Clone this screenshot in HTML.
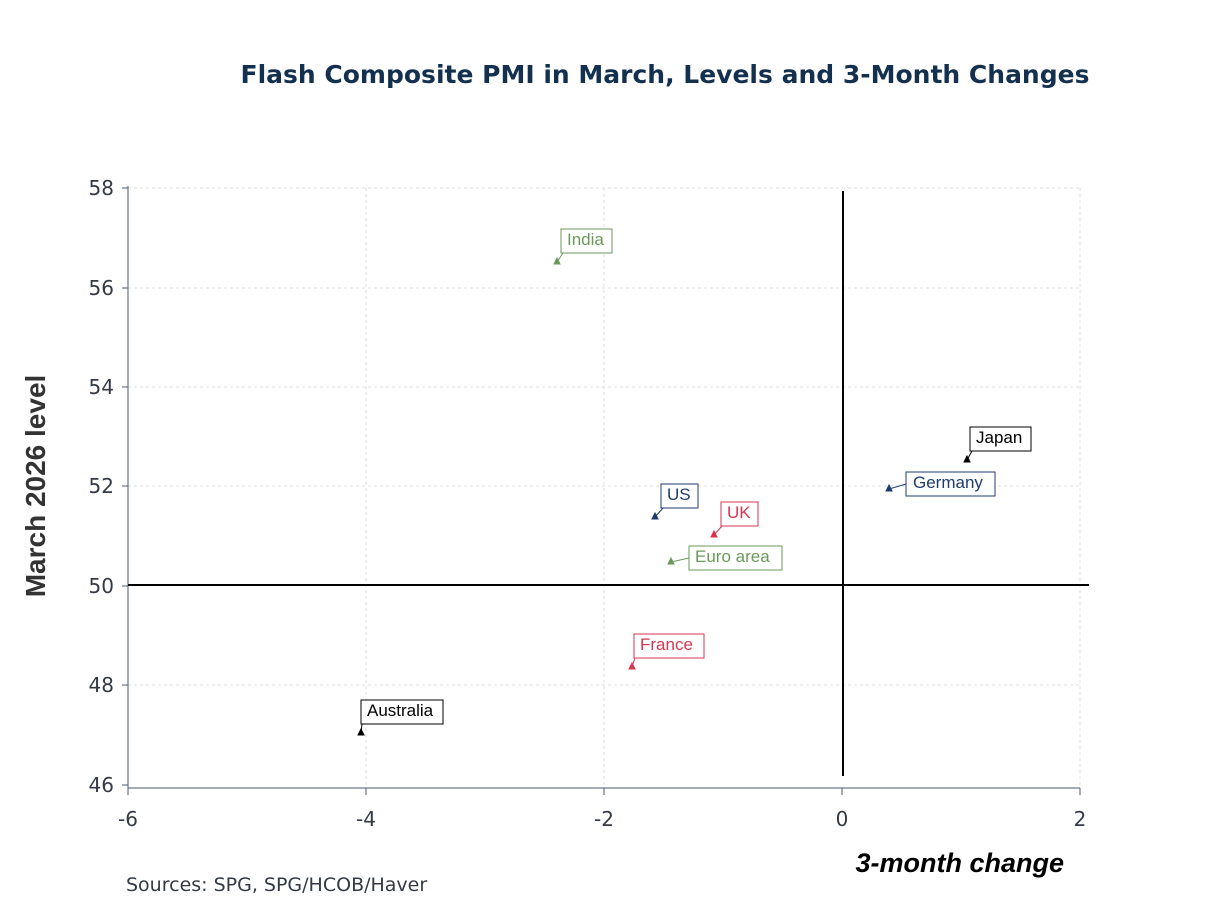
<!DOCTYPE html>
<html><head><meta charset="utf-8"><style>body{margin:0;background:#fff}</style></head><body>
<svg width="1208" height="906" xmlns="http://www.w3.org/2000/svg" font-family="Liberation Sans, sans-serif">
<text x="665" y="83" text-anchor="middle" font-family="DejaVu Sans, sans-serif" font-weight="bold" font-size="25" fill="#13304f">Flash Composite PMI in March, Levels and 3-Month Changes</text>
<g stroke="#dedede" stroke-dasharray="3,3" stroke-width="1">
<line x1="366" y1="188" x2="366" y2="785"/><line x1="604" y1="188" x2="604" y2="785"/><line x1="1080" y1="188" x2="1080" y2="785"/>
<line x1="128" y1="188" x2="1080" y2="188"/><line x1="128" y1="288" x2="1080" y2="288"/><line x1="128" y1="387" x2="1080" y2="387"/><line x1="128" y1="486" x2="1080" y2="486"/><line x1="128" y1="685" x2="1080" y2="685"/>
</g>
<g stroke="#4a5a70" stroke-width="1">
<line x1="128" y1="186" x2="128" y2="788"/><line x1="128" y1="788" x2="1080" y2="788"/>
<line x1="122" y1="188" x2="128" y2="188"/><line x1="122" y1="288" x2="128" y2="288"/><line x1="122" y1="387" x2="128" y2="387"/><line x1="122" y1="486" x2="128" y2="486"/><line x1="122" y1="586" x2="128" y2="586"/><line x1="122" y1="685" x2="128" y2="685"/><line x1="122" y1="785" x2="128" y2="785"/>
<line x1="128" y1="788" x2="128" y2="795"/><line x1="366" y1="788" x2="366" y2="795"/><line x1="604" y1="788" x2="604" y2="795"/><line x1="842" y1="788" x2="842" y2="795"/><line x1="1080" y1="788" x2="1080" y2="795"/>
</g>
<line x1="843" y1="191" x2="843" y2="776" stroke="#000" stroke-width="2"/>
<line x1="128" y1="585" x2="1089" y2="585" stroke="#000" stroke-width="2"/>
<g font-family="DejaVu Sans, sans-serif" font-size="20" fill="#333a45" text-anchor="end">
<text x="114" y="195">58</text><text x="114" y="295">56</text><text x="114" y="394">54</text><text x="114" y="493">52</text><text x="114" y="593">50</text><text x="114" y="692">48</text><text x="114" y="792">46</text>
</g>
<g font-family="DejaVu Sans, sans-serif" font-size="20" fill="#333a45" text-anchor="middle">
<text x="128" y="826">-6</text><text x="366" y="826">-4</text><text x="604" y="826">-2</text><text x="842" y="826">0</text><text x="1080" y="826">2</text>
</g>
<text x="45" y="486" transform="rotate(-90 45 486)" text-anchor="middle" font-weight="bold" font-size="28" fill="#333">March 2026 level</text>
<text x="1064" y="872" text-anchor="end" font-weight="bold" font-style="italic" font-size="27" fill="#000">3-month change</text>
<text x="126" y="891" font-family="DejaVu Sans, sans-serif" font-size="19" fill="#333a45">Sources:  SPG, SPG/HCOB/Haver</text>
<g font-size="17">
<g stroke="#6a9a5a" fill="#6a9a5a"><line x1="557" y1="262" x2="563" y2="253"/><polygon points="554,264 560,264 557,258" /><rect x="561" y="229" width="51" height="24" fill="#fff"/><text x="567" y="245" stroke="none">India</text></g>
<g stroke="#000" fill="#000"><line x1="967" y1="460" x2="972" y2="451"/><polygon points="964,462 970,462 967,456"/><rect x="970" y="427" width="61" height="24" fill="#fff"/><text x="976" y="443" stroke="none">Japan</text></g>
<g stroke="#1f3c6e" fill="#1f3c6e"><line x1="889" y1="489" x2="906" y2="484"/><polygon points="886,491 892,491 889,485"/><rect x="906" y="472" width="89" height="24" fill="#fff"/><text x="913" y="488" stroke="none">Germany</text></g>
<g stroke="#1f3c6e" fill="#1f3c6e"><line x1="655" y1="517" x2="663" y2="508"/><polygon points="652,519 658,519 655,513"/><rect x="661" y="484" width="37" height="24" fill="#fff"/><text x="667" y="500" stroke="none">US</text></g>
<g stroke="#d6374f" fill="#d6374f"><line x1="714" y1="535" x2="722" y2="526"/><polygon points="711,537 717,537 714,531"/><rect x="721" y="502" width="37" height="24" fill="#fff"/><text x="727" y="518" stroke="none">UK</text></g>
<g stroke="#6a9a5a" fill="#6a9a5a"><line x1="671" y1="562" x2="689" y2="558"/><polygon points="668,564 674,564 671,558"/><rect x="689" y="546" width="93" height="24" fill="#fff"/><text x="695" y="562" stroke="none">Euro area</text></g>
<g stroke="#d6374f" fill="#d6374f"><line x1="632" y1="667" x2="635" y2="658"/><polygon points="629,669 635,669 632,663"/><rect x="634" y="634" width="70" height="24" fill="#fff"/><text x="640" y="650" stroke="none">France</text></g>
<g stroke="#000" fill="#000"><line x1="361" y1="733" x2="362" y2="724"/><polygon points="358,735 364,735 361,729"/><rect x="361" y="700" width="82" height="24" fill="#fff"/><text x="367" y="716" stroke="none">Australia</text></g>
</g>
</svg>
</body></html>
